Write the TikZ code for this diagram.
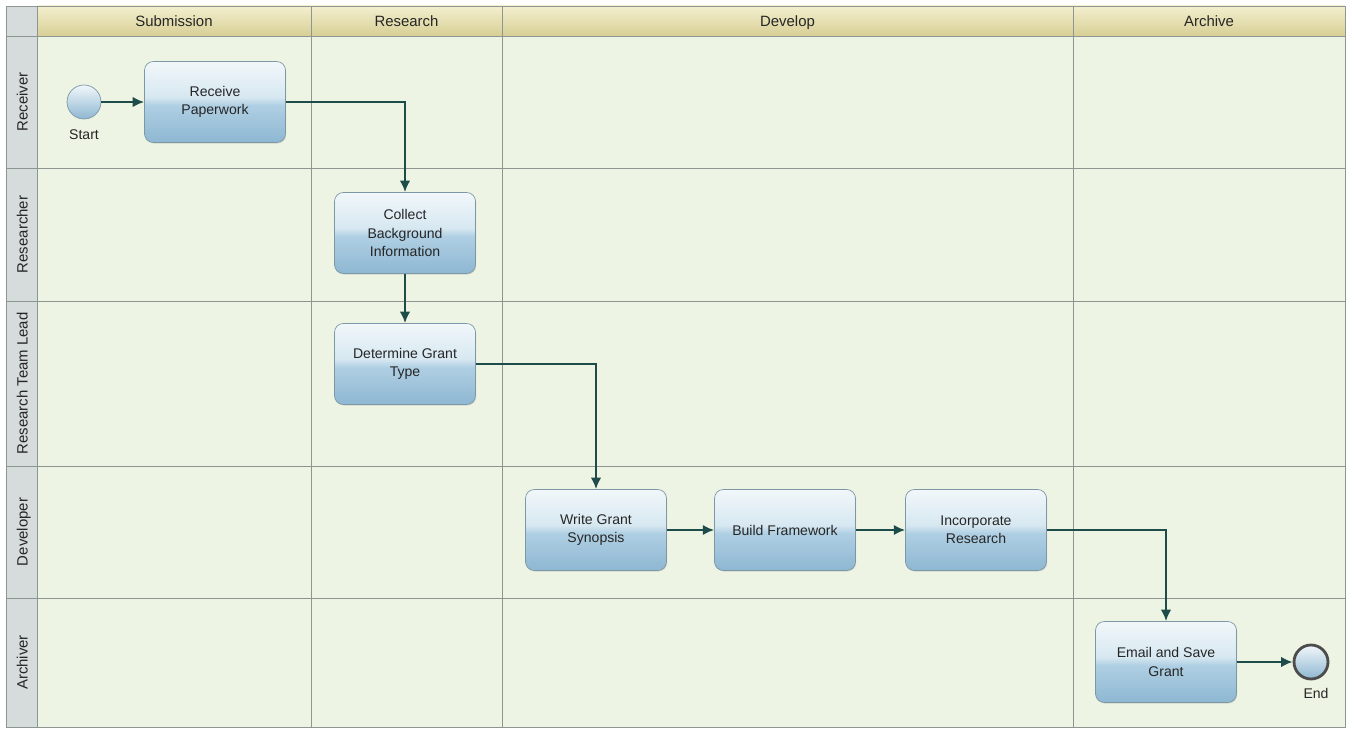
\documentclass[tikz,border=0pt]{standalone}
\usepackage{fontspec}
\setmainfont{Liberation Sans}
\usetikzlibrary{arrows.meta,shadows}
\definecolor{lanegreen}{HTML}{EEF4E4}
\definecolor{headtop}{HTML}{F3EFCF}
\definecolor{headbot}{HTML}{D8CF95}
\definecolor{sidegray}{HTML}{D6DBDC}
\definecolor{gridline}{HTML}{8E9692}
\definecolor{flowteal}{HTML}{1E4C4A}
\definecolor{tasktop}{HTML}{F1F7FA}
\definecolor{taskhigh}{HTML}{D7E8F1}
\definecolor{taskmid}{HTML}{AFCFE3}
\definecolor{taskbot}{HTML}{8EB7D2}
\definecolor{taskedge}{HTML}{7C97A5}
\pgfdeclareverticalshading{taskshade}{100bp}{color(0bp)=(taskbot); color(25bp)=(taskbot);
  color(48bp)=(taskmid); color(53bp)=(taskhigh); color(75bp)=(tasktop); color(100bp)=(tasktop)}

\tikzset{
  task/.style={draw=taskedge, rounded corners=5pt, shading=taskshade,
    minimum width=2.82cm, minimum height=1.62cm, align=center, text=black!85,
    font=\fontsize{8}{10.5}\selectfont,
    drop shadow={shadow xshift=.4pt, shadow yshift=-.6pt, opacity=.25}},
  event/.style={circle, minimum size=.68cm, inner sep=0pt, draw=taskedge,
    top color=tasktop, bottom color=taskbot},
  endevent/.style={event, draw=black!70, line width=1.6pt},
  eventtext/.style={font=\fontsize{8}{10}\selectfont, text=black!85},
  headlabel/.style={font=\fontsize{8.5}{10}\selectfont, text=black!85,
    text height=1.6ex, text depth=.4ex},
  lanelabel/.style={rotate=90, font=\fontsize{8.5}{10}\selectfont, text=black!85,
    text height=1.6ex, text depth=.4ex},
  flow/.style={draw=flowteal, line width=1.3pt, -{Latex[length=6.5pt,width=6pt]}}
}

\begin{document}
\begin{tikzpicture}[x=0.02cm, y=-0.02cm]
  \useasboundingbox (0,0) rectangle (1354,729);
  \fill[white] (0,0) rectangle (1354,729);

  % pool and lanes
  \fill[lanegreen] (37,36) rectangle (1345,727);
  \shade[top color=headtop, bottom color=headbot] (37,6) rectangle (1345,36);
  \fill[sidegray] (6,6) rectangle (37,727);
  \foreach \y in {168,301,466,598}
    \draw[gridline] (6,\y) -- (1345,\y);
  \foreach \x in {311,502,1073}
    \draw[gridline] (\x,6) -- (\x,727);
  \draw[gridline] (6,6) rectangle (1345,727)
                  (37,6) -- (37,727)
                  (6,36) -- (1345,36);

  \foreach \xa/\xb/\txt [count=\i] in {37/311/Submission, 311/502/Research,
      502/1073/Develop, 1073/1345/Archive}
    \node[headlabel] (head\i) at ({(\xa+\xb)/2},21) {\txt};
  \foreach \ya/\yb/\txt [count=\i] in {36/168/Receiver, 168/301/Researcher,
      301/466/Research Team Lead, 466/598/Developer, 598/727/Archiver}
    \node[lanelabel] (lane\i) at (22,{(\ya+\yb)/2}) {\txt};

  % activities
  \node[event] (start) at (84,102) {};
  \node[eventtext] (startlabel) at (84,135) {Start};
  \node[task] (receive) at (215,102) {Receive\\Paperwork};
  \node[task] (collect) at (405,233) {Collect\\Background\\Information};
  \node[task] (determine) at (405,364) {Determine Grant\\Type};
  \node[task] (write) at (596,530) {Write Grant\\Synopsis};
  \node[task] (build) at (785,530) {Build Framework};
  \node[task] (incorporate) at (976,530) {Incorporate\\Research};
  \node[task] (email) at (1166,662) {Email and Save\\Grant};
  \node[endevent] (end) at (1311,662) {};
  \node[eventtext] (endlabel) at (1316,693) {End};

  % sequence flows
  \draw[flow] (start) -- (receive);
  \draw[flow] (receive.east) -| (collect.north);
  \draw[flow] (collect) -- (determine);
  \draw[flow] (determine.east) -| (write.north);
  \draw[flow] (write) -- (build);
  \draw[flow] (build) -- (incorporate);
  \draw[flow] (incorporate.east) -| (email.north);
  \draw[flow] (email) -- (end);
\end{tikzpicture}
\end{document}
